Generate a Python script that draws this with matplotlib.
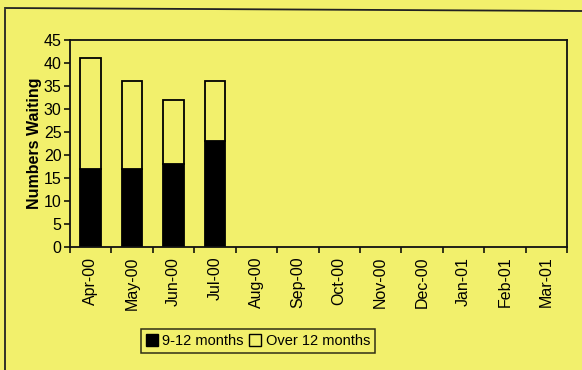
import matplotlib.pyplot as plt
from matplotlib.lines import Line2D
from matplotlib.patches import Patch

months = ["Apr-00", "May-00", "Jun-00", "Jul-00", "Aug-00", "Sep-00",
          "Oct-00", "Nov-00", "Dec-00", "Jan-01", "Feb-01", "Mar-01"]
nine_to_twelve = [17, 17, 18, 23]
over_twelve = [24, 19, 14, 13]
y_ticks = [0, 5, 10, 15, 20, 25, 30, 35, 40, 45]

bg = "#F2F06C"
fig = plt.figure(figsize=(5.82, 3.70), dpi=100, facecolor=bg)
plt.rcParams["font.family"] = ["Liberation Sans", "DejaVu Sans"]

# outer chart frame (left and top edges)
fig.add_artist(Line2D([5 / 582, 5 / 582], [0.0, 1 - 10 / 370], color="#222222", lw=1.3,
                      transform=fig.transFigure))
fig.add_artist(Line2D([5 / 582, 1.0], [1 - 8 / 370, 1 - 11 / 370], color="#222222", lw=1.3,
                      transform=fig.transFigure))

ax = fig.add_axes([70 / 582, 1 - 247 / 370, 497 / 582, 207 / 370])
ax.set_facecolor(bg)

x = list(range(len(nine_to_twelve)))
ax.bar(x, nine_to_twelve, width=0.5, color="black", edgecolor="black", linewidth=1.3)
ax.bar(x, over_twelve, width=0.5, bottom=nine_to_twelve, color=bg,
       edgecolor="black", linewidth=1.3)

ax.set_xlim(-0.5, len(months) - 0.5)
ax.set_ylim(0, 45)
ax.set_yticks(y_ticks)
ax.set_yticklabels([str(v) for v in y_ticks], fontsize=11.5)
ax.set_xticks(range(len(months)))
ax.set_xticklabels(months, rotation=90, fontsize=11.5)
ax.tick_params(axis="x", length=0, pad=7)
ax.set_xticks([i - 0.5 for i in range(len(months) + 1)], minor=True)
ax.tick_params(axis="x", which="minor", length=4, width=1.1, direction="out")
ax.tick_params(axis="y", length=4, width=1.1, direction="out", pad=2)
for s in ax.spines.values():
    s.set_linewidth(1.3)
    s.set_color("#111111")

ax.set_ylabel("Numbers Waiting", fontsize=11.5, fontweight="bold", labelpad=1)

handles = [Patch(facecolor="black", edgecolor="black"),
           Patch(facecolor=bg, edgecolor="black")]
leg = fig.legend(handles, ["9-12 months", "Over 12 months"], loc="center",
                 bbox_to_anchor=(258 / 582, 1 - 341 / 370), ncol=2, fontsize=10.5,
                 frameon=True, fancybox=False, edgecolor="black", facecolor=bg,
                 handlelength=0.8, handleheight=0.8, handletextpad=0.3,
                 columnspacing=0.4, borderpad=0.35, borderaxespad=0)
leg.get_frame().set_linewidth(1.1)

fig.savefig("out.png", dpi=100, facecolor=bg)
